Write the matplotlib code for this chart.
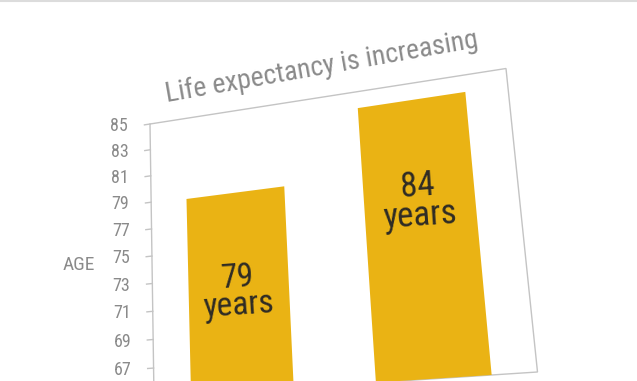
import numpy as np
import matplotlib
matplotlib.use("Agg")
import matplotlib.pyplot as plt
import matplotlib.transforms as mtransforms
from matplotlib.patches import Rectangle
from matplotlib.lines import Line2D

# data
bar_pos = [0, 1]
values = [78.9, 83.8]
label_unit = "years"
yticks = list(range(67, 86, 2))
ymin, ymax = 65, 85
title = "Life expectancy is increasing"
ylabel = "AGE"

W, H = 637, 381
plt.rcParams['font.family'] = ['Liberation Sans Narrow', 'Roboto Condensed', 'Lato', 'DejaVu Sans']

# the chart is photographed at an angle: plot-area corners in pixels
corners_px = [(154, 397), (537.5, 372), (506, 68.5), (150, 124)]


def homography(src, dst):
    A, b = [], []
    for (x, y), (X, Y) in zip(src, dst):
        A.append([x, y, 1, 0, 0, 0, -x * X, -y * X]); b.append(X)
        A.append([0, 0, 0, x, y, 1, -x * Y, -y * Y]); b.append(Y)
    h = np.linalg.solve(np.array(A, float), np.array(b, float))
    return np.append(h, 1).reshape(3, 3)


class Persp(mtransforms.Transform):
    input_dims = 2
    output_dims = 2
    is_separable = False
    has_inverse = False

    def __init__(self, M):
        super().__init__()
        self.M = M

    def transform_non_affine(self, values):
        v = np.asarray(values, float).reshape(-1, 2)
        p = np.c_[v, np.ones(len(v))] @ self.M.T
        return p[:, :2] / p[:, 2:]


dst = [(x / W, 1 - y / H) for x, y in corners_px]
M = homography([(0, 0), (1, 0), (1, 1), (0, 1)], dst)

fig = plt.figure(figsize=(W / 100, H / 100), dpi=100)
fig.patch.set_facecolor('white')
ax = fig.add_axes([0, 0, 1, 1])
ax.set_axis_off()
ax.set_xlim(-0.5, 1.5)
ax.set_ylim(ymin, ymax)

plane = Persp(M) + fig.transFigure           # plot-area fraction -> screen
flat = ax.transScale + ax.transLimits + plane  # data -> screen


def shifted(tr, dx, dy):
    return tr + mtransforms.ScaledTranslation(dx / 100, dy / 100, fig.dpi_scale_trans)


# plot-area border
ax.add_patch(Rectangle((0, 0), 1, 1, fill=False, edgecolor='#c4c4c4', lw=1.0,
                       transform=plane, clip_on=False, zorder=1))

bars = ax.bar(bar_pos, [v - ymin for v in values], bottom=ymin, width=0.57,
              color='#eab314', zorder=2)
for b in bars:
    b.set_transform(flat)
    b.set_clip_on(False)
ax.set_xlim(-0.5, 1.5)
ax.set_ylim(ymin, ymax)

# y ticks and labels
for t in yticks:
    ax.add_line(Line2D([-0.5 - 0.035, -0.5], [t, t], color='#c4c4c4', lw=1.0,
                       transform=flat, clip_on=False))
    ax.text(-0.5, t, str(t), transform=shifted(flat, -22, -2), ha='right', va='center',
            fontsize=13, color='#8a8a8a', clip_on=False)

ax.text(0, 0.5, ylabel, transform=shifted(plane, -73, -9), ha='center', va='center',
        fontsize=14, color='#8a8a8a')

# labels inside bars
for x, v, fs in zip(bar_pos, values, [24, 25]):
    ax.text(x, v - 7.1, f"{round(v)}\n{label_unit}", transform=flat, ha='center',
            va='center', fontsize=fs, color='#2e2b25', rotation=4,
            rotation_mode='anchor', linespacing=0.85, multialignment='center')

ax.text(0.5, 1, title, transform=shifted(plane, 4, 31), ha='center', va='center',
        fontsize=20, color='#8a8a8a', rotation=10, rotation_mode='anchor')

# thin border at the top of the screenshot
fig.add_artist(Line2D([0, 1], [0.997, 0.997], color='#dcdcdc', lw=1.5,
                      transform=fig.transFigure))

fig.savefig('out.png', dpi=100, facecolor='white')
